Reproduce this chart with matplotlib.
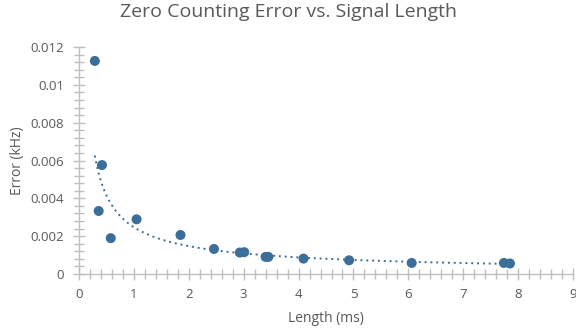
import numpy as np
import matplotlib
matplotlib.use('Agg')
import matplotlib.pyplot as plt
from matplotlib.ticker import MultipleLocator

# signal length (ms) and zero-counting error (kHz)
length_ms = [0.29, 0.42, 0.36, 0.58, 1.05, 1.85, 2.46, 2.93, 3.01, 3.40, 3.45,
             4.09, 4.92, 6.06, 7.74, 7.85]
error_khz = [0.01127, 0.00576, 0.00333, 0.00189, 0.00289, 0.00206, 0.00132,
             0.00113, 0.00115, 0.00090, 0.00090, 0.00081, 0.00072, 0.00058,
             0.00058, 0.00055]

POINT_COLOR = '#3B6E98'
TEXT_COLOR = '#595959'
AXIS_COLOR = '#BFBFBF'

plt.rcParams['font.family'] = ['Open Sans', 'DejaVu Sans']

fig = plt.figure(figsize=(5.76, 3.32), dpi=100)
ax = fig.add_axes([0.137, 0.175, 0.858, 0.683])

x = np.array(length_ms)
y = np.array(error_khz)

# power trendline fitted in log-log space
b, log_a = np.polyfit(np.log(x), np.log(y), 1)
xs = np.linspace(x.min(), x.max(), 300)
ax.plot(xs, np.exp(log_a) * xs ** b, color=POINT_COLOR, lw=1.4,
        linestyle=(0, (1, 2)), zorder=2)

ax.scatter(x, y, s=52, color=POINT_COLOR, edgecolors='none', zorder=3)

ax.set_xlim(0, 9)
ax.set_ylim(0, 0.012)
ax.xaxis.set_major_locator(MultipleLocator(1))
ax.xaxis.set_minor_locator(MultipleLocator(0.2))
ax.yaxis.set_minor_locator(MultipleLocator(0.0004))
ax.set_yticks(np.arange(0, 0.0121, 0.002))
ax.set_yticklabels(['0', '0.002', '0.004', '0.006', '0.008', '0.01', '0.012'])

for side in ['top', 'right']:
    ax.spines[side].set_visible(False)
for side in ['left', 'bottom']:
    ax.spines[side].set_color(AXIS_COLOR)
    ax.spines[side].set_linewidth(1.0)

ax.tick_params(which='both', direction='inout', color=AXIS_COLOR, width=1.0,
               labelsize=9.5, labelcolor=TEXT_COLOR)
ax.tick_params(which='major', length=9, pad=6)
ax.tick_params(which='minor', length=7)

ax.set_xlabel('Length (ms)', fontsize=10, color=TEXT_COLOR, labelpad=7)
ax.set_ylabel('Error (kHz)', fontsize=10, color=TEXT_COLOR, labelpad=4)
fig.suptitle('Zero Counting Error vs. Signal Length', fontsize=14,
             color=TEXT_COLOR, x=0.5, y=0.99)

fig.savefig('out.png', dpi=100)
